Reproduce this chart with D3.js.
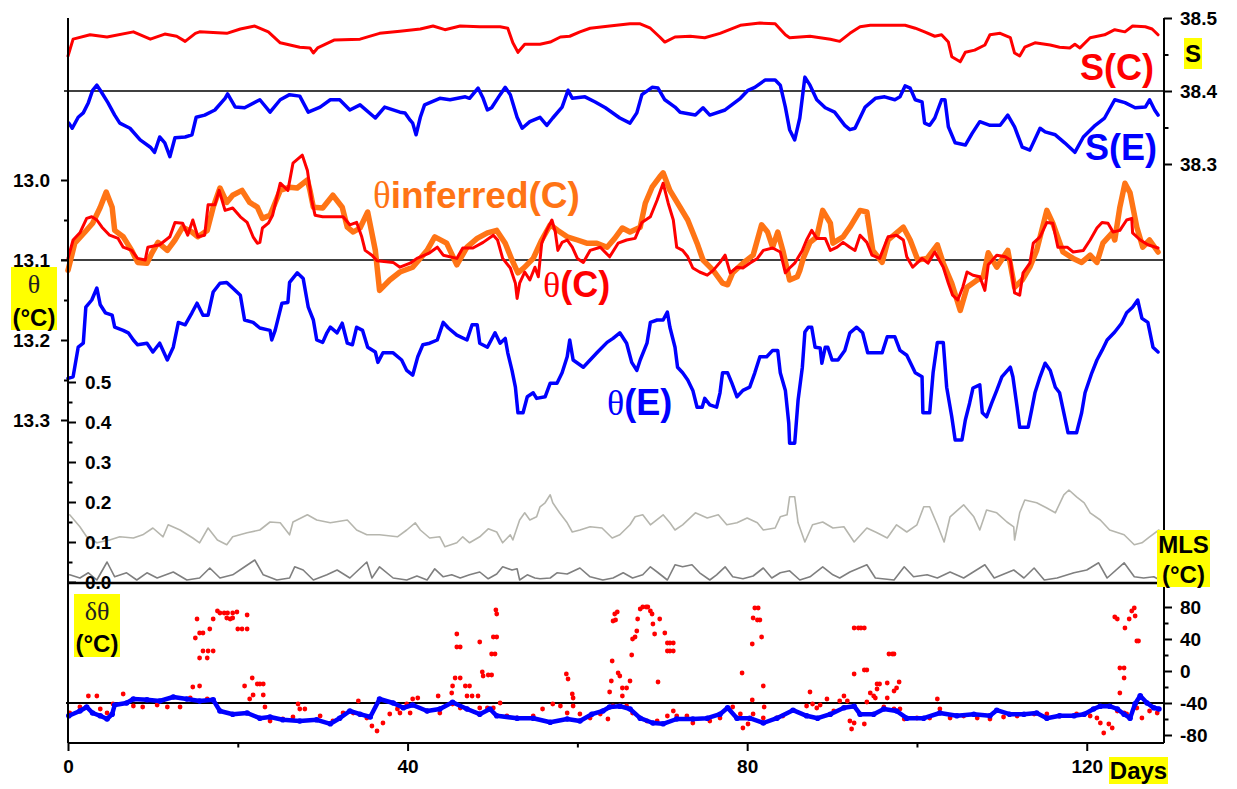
<!DOCTYPE html>
<html>
<head>
<meta charset="utf-8">
<script src="https://cdn.jsdelivr.net/npm/d3@7"></script>
<style>
  body { margin: 0; background: #fff; }
  svg { display: block; }
</style>
</head>
<body>
<svg id="chart" width="1237" height="789"></svg>
<script>
// ---- axis ticks ----
const dayTicks = [0, 40, 80, 120];
const dayMinorTicks = [20, 60, 100];
const salinityTicks = [38.3, 38.4, 38.5];
const salinityMinorTicks = [38.35, 38.45];
const thetaTicks = [13.0, 13.1, 13.2, 13.3];
const thetaMinorTicks = [13.05, 13.15, 13.25];
const mlsTicks = [0, 0.1, 0.2, 0.3, 0.4, 0.5];
const mlsMinorTicks = [0.05, 0.15, 0.25, 0.35, 0.45];
const deltaTicks = [-80, -40, 0, 40, 80];
const deltaMinorTicks = [-60, -20, 20, 60];

// ---- series: [day, value] ----
const salinityC = [[0,38.448],[0.6,38.471],[2.6,38.477],[4.6,38.474],[7.7,38.481],[9.7,38.471],[11.4,38.478],[12.8,38.475],[13.8,38.468],[15.0,38.479],[15.5,38.481],[18.7,38.479],[20.3,38.485],[22.0,38.489],[23.6,38.481],[25.0,38.466],[27.3,38.460],[28.5,38.459],[28.9,38.452],[29.4,38.459],[31.4,38.470],[34.4,38.471],[36.7,38.479],[39.1,38.482],[41.5,38.485],[43.0,38.489],[44.4,38.484],[46.2,38.489],[48.5,38.488],[50.9,38.488],[51.8,38.486],[52.4,38.466],[53.0,38.453],[53.8,38.464],[55.6,38.464],[56.8,38.467],[58.0,38.474],[59.1,38.475],[60.3,38.481],[61.5,38.486],[63.8,38.489],[66.2,38.492],[67.4,38.492],[68.6,38.486],[69.7,38.474],[70.3,38.467],[71.5,38.474],[73.3,38.475],[75.0,38.473],[76.8,38.479],[79.2,38.490],[81.5,38.493],[83.3,38.492],[84.5,38.477],[85.0,38.473],[87.4,38.475],[89.8,38.471],[90.9,38.468],[92.1,38.479],[93.3,38.488],[94.5,38.490],[98.6,38.490],[99.8,38.486],[100.9,38.481],[102.1,38.475],[102.9,38.477],[103.7,38.467],[104.1,38.447],[105.1,38.440],[105.7,38.453],[106.8,38.456],[108.0,38.463],[108.6,38.477],[109.8,38.479],[111.0,38.473],[111.5,38.452],[112.1,38.448],[112.7,38.460],[113.9,38.466],[115.7,38.463],[116.8,38.460],[118.0,38.459],[118.6,38.464],[119.2,38.459],[120.4,38.473],[122.1,38.477],[123.3,38.484],[124.5,38.481],[125.4,38.489],[126.9,38.488],[127.7,38.485],[128.4,38.477]];

const salinityE = [[0.1,38.356],[0.5,38.349],[1.2,38.364],[1.8,38.370],[2.4,38.384],[2.9,38.401],[3.4,38.408],[3.8,38.401],[4.7,38.384],[5.5,38.367],[6.1,38.356],[7.3,38.349],[8.5,38.333],[9.7,38.323],[10.2,38.316],[10.8,38.337],[11.4,38.329],[12.0,38.310],[12.6,38.336],[13.8,38.337],[14.6,38.340],[15.1,38.364],[16.1,38.367],[17.3,38.374],[18.5,38.390],[18.8,38.396],[19.7,38.378],[20.8,38.377],[22.6,38.388],[23.8,38.371],[25.0,38.388],[26.1,38.395],[27.3,38.393],[28.3,38.371],[29.7,38.378],[30.9,38.388],[32.0,38.388],[33.2,38.374],[34.4,38.381],[36.2,38.363],[37.3,38.378],[39.1,38.371],[39.7,38.370],[40.3,38.360],[40.6,38.356],[41.0,38.340],[41.5,38.364],[42.0,38.381],[43.8,38.390],[45.0,38.388],[46.8,38.392],[47.3,38.390],[48.3,38.404],[48.9,38.390],[49.4,38.374],[49.9,38.377],[50.9,38.395],[51.5,38.405],[52.1,38.395],[52.9,38.364],[53.5,38.349],[54.4,38.358],[55.6,38.364],[56.4,38.353],[57.1,38.363],[58.2,38.378],[58.9,38.401],[59.4,38.390],[60.9,38.392],[62.1,38.385],[63.3,38.377],[65.0,38.363],[66.2,38.356],[67.0,38.370],[67.6,38.395],[68.8,38.405],[69.5,38.404],[70.3,38.388],[71.5,38.378],[72.1,38.371],[73.9,38.367],[74.8,38.377],[75.6,38.367],[77.4,38.374],[79.2,38.390],[80.1,38.401],[80.9,38.405],[82.1,38.415],[83.3,38.415],[83.9,38.408],[84.5,38.378],[85.0,38.347],[85.6,38.333],[86.2,38.363],[86.8,38.419],[87.4,38.408],[88.2,38.388],[89.2,38.377],[90.3,38.371],[91.5,38.353],[92.1,38.347],[92.7,38.349],[93.9,38.378],[95.1,38.390],[96.2,38.392],[97.4,38.388],[98.0,38.392],[98.6,38.407],[99.2,38.404],[99.8,38.388],[100.6,38.385],[100.9,38.356],[101.5,38.353],[102.1,38.363],[102.9,38.388],[103.3,38.388],[103.7,38.351],[104.5,38.329],[105.7,38.326],[106.5,38.342],[107.4,38.358],[108.6,38.353],[109.8,38.353],[110.7,38.367],[111.5,38.351],[112.4,38.323],[113.3,38.319],[114.5,38.349],[115.1,38.344],[116.3,38.340],[117.4,38.329],[118.6,38.316],[119.6,38.337],[121.0,38.353],[122.1,38.363],[123.3,38.388],[124.5,38.384],[125.7,38.377],[126.9,38.378],[127.4,38.388],[128.0,38.374],[128.4,38.367]];

const thetaInferredC = [[0,13.113],[0.8,13.079],[2.0,13.065],[2.9,13.054],[3.8,13.034],[4.5,13.015],[5.2,13.034],[5.5,13.063],[6.5,13.071],[7.5,13.088],[8.2,13.103],[9.3,13.104],[9.9,13.091],[10.6,13.078],[11.7,13.088],[12.6,13.075],[13.5,13.059],[14.6,13.065],[15.3,13.071],[16.4,13.063],[17.1,13.034],[17.9,13.010],[18.7,13.028],[19.4,13.019],[20.5,13.013],[21.4,13.028],[22.3,13.034],[22.9,13.048],[23.8,13.044],[25.0,13.013],[26.1,13.009],[27.0,13.010],[28.2,13.000],[28.5,13.013],[28.9,13.034],[30.0,13.035],[31.2,13.019],[32.3,13.034],[32.9,13.059],[33.6,13.065],[34.4,13.060],[35.3,13.040],[36.2,13.088],[36.7,13.138],[37.9,13.125],[39.1,13.115],[40.6,13.109],[42.3,13.088],[43.2,13.071],[44.6,13.079],[45.8,13.106],[47.0,13.084],[48.2,13.073],[49.4,13.066],[50.5,13.063],[51.5,13.079],[52.3,13.100],[53.0,13.116],[53.8,13.109],[54.8,13.098],[55.8,13.075],[56.8,13.056],[57.7,13.063],[58.8,13.071],[60.0,13.075],[61.1,13.079],[62.3,13.079],[63.5,13.084],[64.4,13.073],[65.3,13.060],[66.2,13.065],[67.4,13.059],[68.0,13.029],[68.8,13.009],[69.7,12.996],[70.1,12.991],[70.9,13.013],[72.1,13.034],[73.0,13.050],[74.1,13.079],[74.8,13.100],[76.0,13.113],[77.1,13.129],[77.7,13.131],[78.3,13.116],[79.5,13.104],[80.7,13.094],[81.7,13.056],[82.4,13.065],[83.0,13.084],[83.6,13.065],[84.2,13.088],[85.0,13.125],[85.9,13.121],[86.2,13.113],[86.6,13.098],[87.4,13.078],[88.2,13.071],[88.9,13.038],[89.8,13.054],[90.1,13.079],[91.3,13.071],[92.1,13.059],[93.3,13.038],[94.1,13.040],[94.8,13.088],[95.9,13.103],[96.6,13.075],[97.6,13.066],[98.4,13.059],[99.2,13.075],[100.1,13.100],[101.2,13.098],[102.4,13.081],[103.1,13.104],[104.1,13.129],[105.1,13.163],[105.9,13.134],[107.1,13.125],[107.8,13.121],[108.4,13.091],[109.4,13.109],[110.7,13.088],[111.5,13.134],[112.4,13.125],[113.3,13.109],[114.1,13.088],[115.3,13.038],[116.0,13.054],[117.2,13.090],[118.4,13.098],[119.4,13.103],[120.4,13.094],[121.2,13.103],[121.9,13.079],[123.0,13.066],[123.3,13.075],[123.9,13.034],[124.5,13.004],[125.1,13.016],[125.9,13.059],[126.6,13.084],[127.4,13.075],[128.4,13.090]];

const thetaC = [[0,13.098],[0.6,13.075],[1.4,13.066],[2.2,13.048],[2.8,13.046],[3.4,13.050],[4.0,13.059],[4.9,13.069],[5.9,13.073],[6.5,13.084],[7.5,13.088],[8.2,13.098],[9.1,13.100],[9.4,13.084],[10.8,13.081],[12.0,13.071],[12.6,13.053],[13.5,13.054],[14.1,13.069],[14.7,13.050],[15.3,13.071],[16.1,13.069],[16.5,13.031],[17.3,13.031],[17.8,13.013],[18.5,13.038],[19.4,13.035],[20.3,13.046],[21.1,13.053],[21.8,13.071],[22.3,13.079],[22.6,13.078],[22.9,13.060],[23.6,13.054],[24.1,13.044],[25.0,13.004],[25.9,13.013],[26.5,12.979],[27.6,12.969],[28.2,12.988],[28.7,13.025],[29.1,13.044],[30.0,13.046],[32.4,13.046],[33.2,13.056],[34.0,13.053],[34.6,13.071],[35.0,13.088],[35.8,13.094],[36.4,13.101],[38.3,13.103],[39.1,13.109],[40.3,13.104],[41.1,13.098],[42.0,13.094],[42.6,13.091],[43.5,13.084],[44.2,13.094],[45.8,13.098],[46.5,13.085],[47.7,13.085],[48.9,13.078],[50.1,13.069],[50.6,13.075],[51.2,13.098],[52.1,13.110],[52.7,13.129],[52.9,13.148],[53.2,13.129],[53.8,13.115],[54.4,13.125],[55.0,13.109],[55.4,13.121],[55.8,13.079],[56.4,13.063],[57.0,13.050],[57.4,13.065],[57.7,13.088],[58.2,13.078],[58.8,13.075],[59.4,13.084],[60.0,13.098],[60.7,13.103],[61.5,13.088],[62.7,13.084],[63.8,13.096],[64.8,13.079],[65.8,13.075],[66.8,13.073],[67.6,13.053],[68.6,13.046],[69.4,13.025],[70.1,13.004],[70.7,13.029],[71.3,13.050],[71.7,13.084],[72.4,13.088],[73.0,13.096],[73.6,13.110],[74.4,13.115],[75.3,13.119],[76.0,13.113],[76.8,13.103],[77.4,13.094],[78.0,13.116],[78.8,13.109],[79.5,13.110],[80.3,13.104],[81.2,13.098],[81.9,13.088],[83.0,13.085],[83.9,13.090],[84.5,13.116],[85.0,13.110],[85.6,13.104],[86.5,13.088],[87.0,13.075],[87.6,13.063],[88.2,13.073],[89.2,13.073],[89.8,13.088],[90.6,13.084],[91.3,13.078],[92.1,13.084],[92.7,13.088],[93.3,13.069],[94.1,13.078],[94.7,13.094],[95.6,13.098],[96.6,13.071],[97.6,13.069],[98.4,13.075],[98.8,13.096],[99.5,13.109],[100.6,13.098],[101.3,13.104],[102.1,13.090],[103.1,13.109],[103.7,13.129],[104.2,13.144],[104.8,13.150],[105.4,13.134],[105.9,13.115],[106.6,13.119],[107.4,13.121],[108.0,13.138],[108.4,13.106],[109.4,13.094],[110.4,13.096],[111.0,13.100],[111.5,13.141],[112.1,13.144],[112.5,13.116],[113.3,13.104],[113.7,13.079],[114.5,13.071],[115.3,13.053],[116.0,13.054],[116.6,13.084],[117.7,13.084],[118.4,13.090],[119.6,13.088],[120.4,13.075],[121.2,13.060],[121.8,13.053],[122.5,13.054],[123.1,13.065],[123.9,13.063],[124.7,13.050],[125.3,13.048],[125.4,13.066],[126.3,13.075],[127.2,13.081],[128.4,13.085]];

const thetaE = [[0,13.248],[0.6,13.246],[1.2,13.209],[1.8,13.204],[2.1,13.159],[2.8,13.150],[3.4,13.135],[3.8,13.156],[4.4,13.166],[5.2,13.169],[5.5,13.184],[6.5,13.188],[7.1,13.191],[7.7,13.200],[8.2,13.206],[9.3,13.204],[10.0,13.215],[10.8,13.204],[11.7,13.225],[12.4,13.209],[13.0,13.178],[13.8,13.181],[14.6,13.166],[15.2,13.154],[15.9,13.169],[16.5,13.169],[17.1,13.140],[17.9,13.129],[18.7,13.128],[19.4,13.135],[20.3,13.144],[20.8,13.175],[21.8,13.178],[22.6,13.185],[23.8,13.188],[24.0,13.200],[24.4,13.188],[25.2,13.154],[25.9,13.153],[26.1,13.128],[27.0,13.116],[27.7,13.123],[28.3,13.159],[28.9,13.175],[29.3,13.200],[30.0,13.203],[30.5,13.191],[30.9,13.184],[31.7,13.191],[32.3,13.179],[32.9,13.204],[33.5,13.206],[34.0,13.184],[34.7,13.188],[35.3,13.209],[36.2,13.215],[36.5,13.228],[37.1,13.216],[38.3,13.216],[39.3,13.225],[39.9,13.238],[40.6,13.244],[41.2,13.221],[41.8,13.206],[42.6,13.204],[43.5,13.200],[44.2,13.178],[44.8,13.185],[45.8,13.194],[47.0,13.200],[47.6,13.181],[48.2,13.181],[48.5,13.204],[49.4,13.209],[50.3,13.191],[50.9,13.204],[51.5,13.198],[51.8,13.216],[52.3,13.238],[52.7,13.259],[53.0,13.291],[53.6,13.291],[54.1,13.271],[54.8,13.266],[55.2,13.273],[56.2,13.271],[56.8,13.254],[57.6,13.254],[58.2,13.241],[58.8,13.221],[59.1,13.200],[59.5,13.225],[60.7,13.234],[61.5,13.225],[62.3,13.216],[63.5,13.203],[64.2,13.198],[65.0,13.191],[65.8,13.204],[66.4,13.228],[67.0,13.238],[67.4,13.225],[68.2,13.204],[68.6,13.178],[69.4,13.175],[70.1,13.175],[70.6,13.165],[70.9,13.184],[71.5,13.209],[71.8,13.234],[72.4,13.241],[73.0,13.250],[73.6,13.263],[74.1,13.284],[74.7,13.284],[75.0,13.273],[75.6,13.281],[76.4,13.284],[76.8,13.266],[77.1,13.241],[77.7,13.241],[78.2,13.254],[78.8,13.271],[79.5,13.263],[80.3,13.259],[80.9,13.241],[81.5,13.221],[82.3,13.221],[83.0,13.213],[83.6,13.213],[83.9,13.241],[84.5,13.263],[84.9,13.304],[85.0,13.329],[85.6,13.329],[86.0,13.275],[86.5,13.234],[86.8,13.190],[87.2,13.184],[87.6,13.184],[88.0,13.209],[88.6,13.210],[88.8,13.229],[89.2,13.209],[89.5,13.209],[90.0,13.225],[90.7,13.225],[91.5,13.213],[92.1,13.191],[92.9,13.184],[93.6,13.191],[94.2,13.216],[95.3,13.216],[95.9,13.216],[96.5,13.196],[97.4,13.196],[98.0,13.213],[98.8,13.219],[99.8,13.241],[100.6,13.246],[100.7,13.291],[101.5,13.291],[101.9,13.241],[102.4,13.203],[103.1,13.203],[103.5,13.259],[104.1,13.296],[104.5,13.325],[105.3,13.325],[105.7,13.300],[106.2,13.279],[106.6,13.260],[107.4,13.256],[107.7,13.291],[108.2,13.296],[108.8,13.279],[109.4,13.263],[110.0,13.246],[111.0,13.234],[111.3,13.246],[111.8,13.284],[112.1,13.309],[113.1,13.309],[113.5,13.288],[113.9,13.266],[114.5,13.246],[115.1,13.229],[115.7,13.238],[116.3,13.259],[116.8,13.266],[117.4,13.296],[117.8,13.316],[118.8,13.316],[119.4,13.291],[119.8,13.266],[120.6,13.241],[121.2,13.225],[121.8,13.213],[122.4,13.200],[123.3,13.190],[124.1,13.179],[124.7,13.166],[125.4,13.159],[126.0,13.150],[126.5,13.173],[127.2,13.178],[127.8,13.209],[128.4,13.215]];

const mlsLight = [[0.2,0.168],[1.4,0.138],[2.2,0.113],[3.4,0.098],[4.9,0.105],[6.1,0.113],[7.7,0.110],[8.8,0.118],[10.0,0.135],[11.2,0.113],[11.8,0.143],[13.2,0.130],[14.7,0.110],[15.5,0.098],[16.5,0.135],[17.6,0.105],[18.7,0.093],[19.4,0.113],[21.1,0.123],[22.6,0.130],[23.8,0.150],[25.0,0.148],[26.1,0.118],[26.5,0.150],[28.2,0.168],[29.3,0.155],[30.9,0.148],[32.9,0.155],[34.0,0.130],[35.2,0.118],[36.7,0.118],[38.8,0.113],[39.9,0.130],[40.9,0.148],[41.5,0.130],[42.6,0.110],[43.8,0.113],[44.4,0.088],[45.8,0.098],[46.5,0.113],[47.3,0.098],[48.5,0.113],[49.5,0.133],[50.5,0.125],[51.2,0.098],[52.1,0.118],[52.4,0.105],[53.2,0.155],[53.8,0.173],[54.4,0.155],[55.2,0.163],[55.6,0.188],[56.2,0.198],[56.8,0.218],[57.1,0.198],[57.9,0.173],[58.8,0.148],[59.4,0.125],[60.3,0.130],[61.5,0.138],[62.9,0.135],[64.1,0.110],[65.0,0.118],[66.2,0.143],[66.8,0.163],[67.7,0.168],[68.6,0.143],[70.1,0.168],[70.9,0.148],[71.5,0.130],[72.4,0.143],[73.9,0.173],[75.3,0.160],[76.6,0.168],[77.6,0.143],[78.8,0.148],[80.0,0.160],[81.2,0.148],[81.9,0.130],[83.3,0.135],[83.9,0.163],[84.7,0.168],[85.0,0.213],[85.6,0.213],[86.0,0.148],[86.8,0.100],[87.7,0.143],[88.9,0.150],[90.1,0.135],[91.4,0.138],[92.6,0.100],[94.1,0.135],[95.3,0.123],[96.5,0.110],[97.6,0.143],[98.8,0.125],[100.0,0.143],[100.8,0.188],[101.5,0.188],[102.4,0.143],[103.2,0.100],[103.9,0.163],[105.5,0.193],[106.7,0.163],[107.4,0.130],[108.2,0.180],[109.4,0.173],[110.6,0.150],[111.4,0.138],[111.5,0.105],[112.1,0.173],[112.7,0.205],[114.1,0.198],[115.3,0.185],[116.3,0.173],[117.3,0.218],[117.9,0.230],[118.8,0.213],[119.7,0.198],[120.4,0.173],[121.6,0.155],[122.7,0.130],[124.4,0.118],[125.6,0.093],[126.5,0.098],[127.4,0.113],[128.5,0.130]];

const mlsDark = [[0.2,0.018],[1.4,0.010],[2.4,0.023],[3.4,0.005],[4.6,0.050],[5.5,0.013],[6.9,0.023],[8.1,0.005],[9.3,0.023],[10.5,0.010],[12.4,0.025],[14.0,0.005],[15.5,0.010],[16.7,0.035],[17.9,0.010],[19.4,0.018],[20.6,0.035],[22.0,0.055],[23.0,0.018],[24.6,0.005],[26.1,0.010],[26.7,0.038],[27.7,0.030],[28.9,0.005],[30.5,0.018],[31.7,0.030],[33.2,0.010],[35.2,0.050],[35.8,0.010],[36.7,0.038],[38.3,0.010],[39.9,0.005],[41.1,0.015],[42.3,0.005],[43.2,0.033],[44.2,0.013],[45.2,0.018],[46.2,0.010],[47.3,0.018],[48.5,0.025],[49.5,0.008],[50.5,0.020],[51.2,0.038],[52.3,0.030],[52.9,0.033],[53.2,0.005],[54.1,0.018],[55.0,0.010],[55.6,0.008],[56.8,0.010],[57.6,0.023],[58.8,0.020],[60.3,0.035],[61.5,0.013],[63.0,0.005],[64.2,0.010],[65.4,0.023],[66.5,0.010],[67.7,0.018],[68.6,0.038],[69.4,0.025],[70.6,0.005],[71.5,0.043],[72.4,0.038],[73.5,0.043],[74.4,0.023],[75.6,0.005],[76.4,0.018],[77.4,0.038],[78.3,0.013],[79.5,0.008],[80.7,0.015],[81.9,0.035],[82.9,0.010],[83.9,0.023],[85.0,0.028],[86.2,0.005],[87.4,0.013],[88.9,0.038],[90.1,0.018],[90.9,0.010],[92.1,0.025],[94.1,0.043],[95.1,0.010],[97.3,0.005],[98.5,0.038],[99.6,0.013],[101.2,0.018],[102.4,0.010],[103.9,0.025],[105.5,0.010],[108.0,0.043],[109.1,0.010],[111.4,0.030],[112.6,0.010],[113.8,0.035],[115.0,0.005],[116.5,0.010],[118.5,0.023],[120.0,0.030],[121.4,0.048],[122.4,0.010],[124.4,0.048],[125.6,0.013],[126.7,0.010],[127.9,0.013],[128.6,0.005]];

const deltaE = [[0.1,-56],[1.4,-50],[2.2,-45],[2.9,-52.5],[3.8,-56],[4.6,-60],[5.2,-54],[5.5,-42.5],[6.9,-40],[7.7,-35],[9.3,-36],[10.8,-37.5],[12.4,-32.5],[14.0,-35],[15.5,-37.5],[17.1,-36],[17.9,-50],[19.4,-54],[21.1,-52.5],[22.6,-59],[23.8,-57.5],[25.3,-61],[27.3,-62.5],[29.3,-61],[30.9,-66],[32.0,-59],[33.2,-50],[34.4,-54],[35.6,-57.5],[36.7,-35],[38.3,-40],[39.5,-46],[40.6,-42.5],[42.3,-50],[43.8,-47.5],[45.3,-39],[47.0,-47.5],[48.5,-54],[49.7,-47.5],[50.5,-56],[52.9,-59],[54.8,-59],[56.8,-64],[58.8,-60],[60.3,-62.5],[61.7,-54],[63.0,-50],[63.8,-45],[65.0,-44],[66.2,-47.5],[67.4,-59],[68.9,-65],[70.1,-66],[71.7,-60],[73.6,-60],[75.3,-59],[76.8,-54],[77.7,-46],[78.8,-59],[80.3,-59],[81.9,-65],[83.5,-59],[85.4,-49],[87.0,-56],[88.3,-59],[89.8,-54],[91.4,-46],[92.6,-44],[93.3,-54],[94.9,-54],[96.1,-47.5],[97.6,-50],[98.8,-59],[100.8,-59],[102.7,-52.5],[104.7,-56],[106.7,-54],[108.6,-56],[109.4,-49],[110.9,-54],[112.6,-54],[114.1,-52.5],[115.3,-59],[116.8,-56],[118.5,-56],[119.7,-54],[120.8,-47.5],[121.6,-44],[122.7,-44],[123.6,-47.5],[124.4,-54],[125.1,-59],[125.7,-41],[126.3,-31],[127.1,-40],[127.9,-46],[128.5,-47.5]];

const deltaC = [[0.2,-52.5],[1.4,-45],[2.4,-31.25],[3.4,-31.25],[3.8,-47.5],[4.6,-52.5],[5.3,-41.25],[6.5,-28.75],[7.7,-43.75],[8.8,-45],[10.5,-42.5],[11.7,-45],[13.2,-45],[14.4,-33.75],[14.7,-20],[15.5,-18.75],[16.4,-35],[21.4,-35],[21.8,-30],[23.0,-30],[23.2,-45],[23.8,-62.5],[25.3,-60],[26.5,-57.5],[27.1,-41.25],[27.3,-47.5],[27.9,-47.5],[29.7,-56.25],[31.2,-62.5],[32.4,-52.5],[33.6,-52.5],[34.2,-37.5],[35.2,-58.75],[35.8,-68.75],[36.4,-75],[37.1,-65],[37.9,-53.75],[38.8,-47.5],[39.9,-41.25],[40.6,-35],
[15.0,41.25],[15.9,25],[16.5,25],[17.1,25],[15.5,16.25],[16.4,16.25],[15.2,65],[15.5,47.5],[15.9,47.5],[16.7,52.5],[17.1,65],[17.6,75],[17.9,72.5],[18.4,72.5],[18.8,72.5],[19.4,72.5],[18.7,66.25],[19.1,65],[19.4,66.25],[19.9,73.75],[20.0,52.5],[20.5,52.5],[21.1,52.5],[21.1,70],[20.8,-18.75],[21.7,-8.75],[22.3,-16.25],[22.6,-16.25],[23.0,-16.25],
[39.1,-52.5],[40.3,-52.5],[41.2,-33.75],[42.3,-50],[43.8,-52.5],[45.3,-41.25],[46.2,-46.25],[47.0,-47.5],[48.5,-46.25],[49.4,-46.25],[50.1,-46.25],[50.9,-40],[51.7,-56.25],[52.9,-58.75],[54.8,-56.25],[55.9,-47.5],[57.1,-41.25],[58.0,-43.75],[58.8,-52.5],[59.5,-43.75],[60.3,-53.75],[61.5,-58.75],[62.7,-53.75],[63.6,-60],[64.2,-43.75],[65.0,-43.75],[65.8,-43.75],[66.5,-52.5],[68.2,-62.5],[69.4,-62.5],[70.6,-56.25],[71.7,-56.25],[72.9,-56.25],[73.6,-65],[75.6,-62.5],[76.8,-58.75],[78.3,-45],[79.2,-53.75],[79.5,-71.25],[80.1,-66.25],[80.7,-53.75],[81.9,-58.75],[83.5,-58.75],[84.2,-56.25],[87.0,-43.75],[87.7,-41.25],
[43.6,-31.25],[45.2,-27.5],[45.3,-18.75],[45.6,-8.75],[46.2,-8.75],[45.8,46.25],[45.8,30],[46.2,30],[46.8,-18.75],[47.3,-18.75],[47.0,-31.25],[47.6,-31.25],[48.3,-31.25],[48.5,36.25],[48.8,-1.25],[48.9,-6.25],[49.5,-5],[49.9,-5],[49.9,21.25],[50.3,21.25],[50.1,42.5],[50.5,42.5],[50.4,76.25],[50.5,71.25],[58.7,-3.75],[58.9,-10],[59.4,-28.75],[59.5,-33.75],
[63.8,-26.25],[64.0,-12.5],[64.1,12.5],[64.2,62.5],[64.4,71.25],[64.7,73.75],[64.5,63.75],[64.8,-2.5],[65.0,-6.25],[65.3,-21.25],[65.3,-31.25],[65.8,-21.25],[66.2,-12.5],[66.4,20],[66.5,40],[66.8,42.5],[67.0,50],[67.1,65],[67.4,77.5],[67.7,80],[68.1,80],[68.3,80],[68.6,75],[68.8,71.25],[68.9,58.75],[69.1,46.25],[69.7,65],[70.3,47.5],[70.6,35],[70.9,35],[71.3,35],[70.6,25],[70.9,25],[71.3,25],[69.5,-13.75],[71.3,-50],
[79.4,-2.5],[80.6,-36.25],[80.6,33.75],[80.7,66.25],[80.9,78.75],[81.3,78.75],[81.2,63.75],[81.5,63.75],[81.7,42.5],[81.9,-18.75],[82.0,-45],[87.4,-26.25],[88.6,-42.5],
[88.2,-46.25],[89.4,-35],[90.2,-50],[90.9,-37.5],[91.4,-31.25],[91.8,-37.5],[92.1,-62.5],[92.3,-72.5],[92.6,-65],[93.8,-66.25],[94.1,-38.75],[95.1,-33.75],[96.1,-45],[97.3,-47.5],[98.0,-47.5],[98.5,-60],[100.0,-58.75],[101.5,-58.75],[102.4,-35],[102.7,-47.5],[103.9,-58.75],[105.5,-56.25],[107.1,-58.75],[108.6,-60],[110.2,-57.5],[111.8,-56.25],[113.8,-53.75],[115.3,-53.75],[116.8,-56.25],[118.8,-53.75],[120.4,-56.25],[121.2,-58.75],[121.6,-65],[122.0,-77.5],[122.6,-66.25],[123.0,-71.25],[123.6,-50],[124.4,-52.5],[124.7,-53.75],[125.9,-46.25],[126.5,-58.75],[127.4,-50],[128.3,-52.5],
[92.6,-3.75],[92.6,53.75],[93.1,53.75],[93.4,53.75],[93.8,53.75],[93.8,1.25],[94.1,1.25],[94.5,-27.5],[94.9,-31.25],[95.3,-22.5],[95.3,-16.25],[95.6,-16.25],[96.5,-15],[96.7,21.25],[97.1,21.25],[97.3,21.25],[96.5,-33.75],[97.3,-25],[97.6,-21.25],[97.9,-13.75],
[123.3,67.5],[123.6,65],[123.9,3.75],[124.4,3.75],[124.4,-8.75],[123.9,-27.5],[124.5,53.75],[125.0,65],[125.3,75],[125.6,78.75],[125.7,68.75],[125.9,37.5],[126.1,37.5]];

// ---- colours ----
const RED = "#ff0000", BLUE = "#0000ff", ORANGE = "#ff7415";
const GRAY_LIGHT = "#b6b6ae", GRAY_DARK = "#7f7f7f", YELLOW = "#ffff00";
const SANS = "'Liberation Sans', Arial, sans-serif";
const SERIF = "'Liberation Serif', 'Times New Roman', serif";

// ---- scales ----
const dayMax = 129.1;
const x = d3.scaleLinear().domain([0, dayMax]).range([68, 1164]);
const yS = d3.scaleLinear().domain([38.3, 38.5]).range([164, 18]);
const yT = d3.scaleLinear().domain([13.0, 13.3]).range([180, 420]);
const yM = d3.scaleLinear().domain([0, 0.5]).range([582, 382]);
const yD = d3.scaleLinear().domain([-90, 110]).range([743, 583]);

const svg = d3.select("#chart");
const X0 = x(0), X1 = x(dayMax);

// ---- reference lines and frame ----
const hline = (y, x0, w) => svg.append("line").attr("x1", x0).attr("x2", X1)
  .attr("y1", y).attr("y2", y).attr("stroke", "#000").attr("stroke-width", w);
hline(yS(38.4), 64, 1.6);
hline(yT(13.1), 61, 1.6);
hline(yD(-40), 66, 2);

// ---- series drawing ----
const lineOf = ys => d3.line().x(d => x(d[0])).y(d => ys(d[1]));
function drawLine(data, ys, color, width) {
  svg.append("path").datum(data).attr("d", lineOf(ys))
    .attr("fill", "none").attr("stroke", color).attr("stroke-width", width)
    .attr("stroke-linejoin", "round").attr("stroke-linecap", "round");
}

// salinity panel
drawLine(salinityC, yS, RED, 3);
drawLine(salinityE, yS, BLUE, 3.5);
// potential temperature panel
drawLine(thetaInferredC, yT, ORANGE, 5.5);
drawLine(thetaC, yT, RED, 3);
drawLine(thetaE, yT, BLUE, 3.5);
// MLS panel
drawLine(mlsLight, yM, GRAY_LIGHT, 1.6);
drawLine(mlsDark, yM, GRAY_DARK, 1.6);

// δθ panel: red dots, then blue band of dots on top
svg.append("g").selectAll("circle").data(deltaC).join("circle")
  .attr("cx", d => x(d[0])).attr("cy", d => yD(d[1])).attr("r", 2.4).attr("fill", RED);
drawLine(deltaE, yD, BLUE, 4.5);
svg.append("g").selectAll("circle").data(deltaE).join("circle")
  .attr("cx", d => x(d[0])).attr("cy", d => yD(d[1])).attr("r", 2.8).attr("fill", BLUE);

// panel separators and frame
hline(yD(110), X0, 2.6);
hline(yD(-90), X0, 2);
svg.append("line").attr("x1", X0).attr("x2", X0).attr("y1", yS(38.5)).attr("y2", yD(-90))
  .attr("stroke", "#000").attr("stroke-width", 2);
svg.append("line").attr("x1", X1).attr("x2", X1).attr("y1", yS(38.5)).attr("y2", yD(-90))
  .attr("stroke", "#000").attr("stroke-width", 2);

// ---- axes ----
function styleAxis(g) {
  g.select(".domain").remove();
  g.selectAll(".tick line").attr("stroke", "#000").attr("stroke-width", 2);
  g.selectAll(".tick text").attr("font-family", SANS).attr("font-weight", "bold")
    .attr("font-size", 19).attr("fill", "#000");
}
const fmt1 = d3.format(".1f");
const fmtInt = d => String(d);

function addAxis(axisFn, scale, tx, ty, major, minor, format, size, pad) {
  svg.append("g").attr("transform", `translate(${tx},${ty})`)
    .call(axisFn(scale).tickValues(minor).tickFormat("").tickSize(size / 2 + 0.5))
    .call(styleAxis);
  svg.append("g").attr("transform", `translate(${tx},${ty})`)
    .call(axisFn(scale).tickValues(major).tickFormat(format).tickSize(size).tickPadding(pad))
    .call(styleAxis);
}
addAxis(d3.axisLeft, yT, X0, 0, thetaTicks, thetaMinorTicks, fmt1, 7, 11);
addAxis(d3.axisRight, yM, X0, 0, mlsTicks, mlsMinorTicks, fmt1, 8, 9);
addAxis(d3.axisRight, yS, X1, 0, salinityTicks, salinityMinorTicks, fmt1, 8, 8);
addAxis(d3.axisRight, yD, X1, 0, deltaTicks, deltaMinorTicks, fmtInt, 8, 8);
addAxis(d3.axisBottom, x, 0, yD(-90), dayTicks, dayMinorTicks, fmtInt, 8, 9);

// ---- series labels ----
function label(xp, yp, color, parts, size) {
  const t = svg.append("text").attr("x", xp).attr("y", yp).attr("fill", color)
    .attr("font-size", size || 36);
  parts.forEach(([txt, serif]) => t.append("tspan").text(txt)
    .attr("font-family", serif ? SERIF : SANS)
    .attr("font-weight", serif ? "normal" : "bold"));
}
label(1080, 80, RED, [["S(C)", false]]);
label(1085, 160, BLUE, [["S(E)", false]]);
label(373, 208, ORANGE, [["θ", true], ["inferred(C)", false]], 37);
label(543, 297, RED, [["θ", true], ["(C)", false]]);
label(607, 415, BLUE, [["θ", true], ["(E)", false]]);

// ---- yellow unit boxes ----
function box(x0, y0, w, h, lines) {
  svg.append("rect").attr("x", x0).attr("y", y0).attr("width", w).attr("height", h)
    .attr("fill", YELLOW);
  lines.forEach(([txt, yb, serif, size]) => svg.append("text")
    .attr("x", x0 + w / 2).attr("y", yb).attr("text-anchor", "middle")
    .attr("font-family", serif ? SERIF : SANS).attr("font-weight", serif ? "normal" : "bold")
    .attr("font-size", size).attr("fill", serif ? "#222" : "#000").text(txt));
}
box(11, 267, 46, 63, [["θ", 293, true, 26], ["(°C)", 326, false, 24]]);
box(1184, 38, 18, 31, [["S", 62, false, 24]]);
box(1157, 530, 53, 57, [["MLS", 553, false, 24], ["(°C)", 583, false, 24]]);
box(74, 594, 46, 63, [["δθ", 620, true, 26], ["(°C)", 652, false, 24]]);
box(1109, 757, 59, 27, [["Days", 779, false, 24]]);
</script>
</body>
</html>
